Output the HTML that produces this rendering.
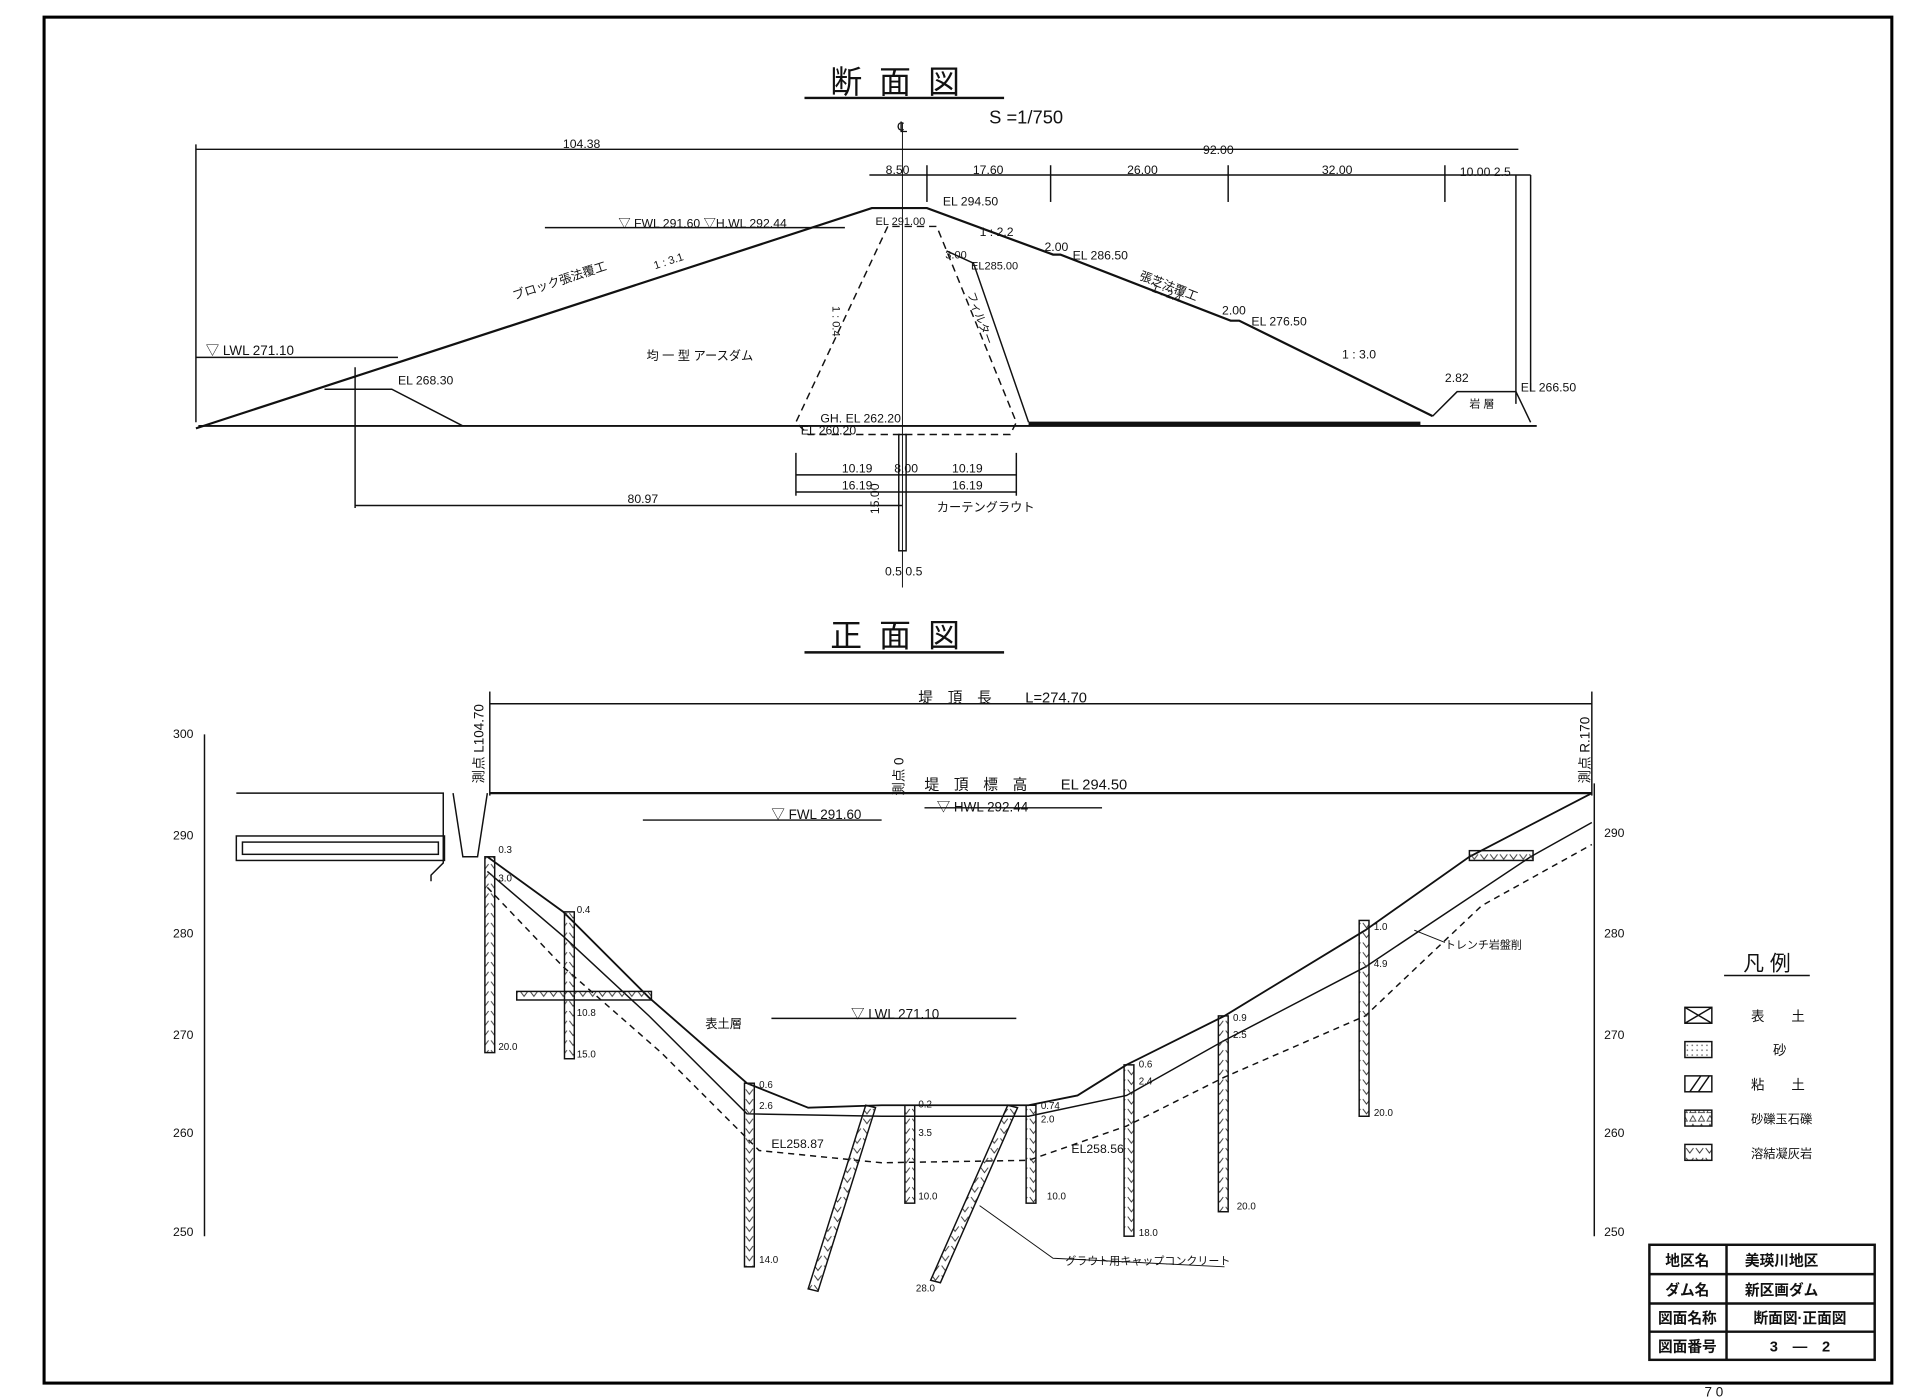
<!DOCTYPE html>
<html><head><meta charset="utf-8"><style>
html,body{margin:0;padding:0;background:#fff;}
svg{display:block;}
text{font-family:"Liberation Sans","Noto Sans CJK JP",sans-serif;fill:#111;}
</style></head><body>
<svg width="1920" height="1399" viewBox="0 0 1568 1143" preserveAspectRatio="none" xmlns="http://www.w3.org/2000/svg">
<defs>
<pattern id="vv" width="8" height="8" patternUnits="userSpaceOnUse"><path d="M1,2 L4,6 L7,2" fill="none" stroke="#333" stroke-width="0.8"/></pattern>
<pattern id="dots" width="4" height="4" patternUnits="userSpaceOnUse"><circle cx="2" cy="2" r="0.6" fill="#444"/></pattern>
<pattern id="tri" width="7" height="7" patternUnits="userSpaceOnUse"><path d="M1,6 L3.5,1.5 L6,6 Z" fill="none" stroke="#333" stroke-width="0.7"/></pattern>
</defs>
<rect width="1568" height="1143" fill="#fff"/>
<rect x="36" y="14" width="1509" height="1116" fill="none" stroke="#000" stroke-width="2.5"/>
<g stroke="#111" fill="none" stroke-width="1.2">
<line x1="657" y1="80" x2="820" y2="80" stroke-width="2"/>
<line x1="657" y1="533" x2="820" y2="533" stroke-width="2"/>
<line x1="160" y1="122" x2="1240" y2="122"/>
<line x1="160" y1="118" x2="160" y2="345"/>
<line x1="710" y1="143" x2="1250" y2="143"/>
<line x1="1238" y1="143" x2="1238" y2="330"/>
<line x1="1250" y1="143" x2="1250" y2="320"/>
<line x1="757" y1="135" x2="757" y2="165"/>
<line x1="858" y1="135" x2="858" y2="165"/>
<line x1="1003" y1="135" x2="1003" y2="165"/>
<line x1="1180" y1="135" x2="1180" y2="165"/>
<polyline points="160,350 712,170 757,170 860,208 866,208 1005,262 1012,262 1170,340" stroke-width="1.8"/>
<line x1="162" y1="348" x2="1255" y2="348" stroke-width="1.5"/>
<polyline points="265,318 320,318 378,348"/>
<polyline points="1170,340 1190,320 1238,320 1250,345"/>
<line x1="840" y1="346" x2="1160" y2="346" stroke-width="3"/>
<polyline points="773,205 795,215 840,345"/>
<polyline points="725,185 650,345 660,355 825,355 830,345 765,185 725,185" stroke-dasharray="6,4"/>
<line x1="737" y1="100" x2="737" y2="480" stroke-width="0.8"/>
<rect x="734" y="355" width="6" height="95"/>
<line x1="650" y1="370" x2="650" y2="405"/>
<line x1="830" y1="370" x2="830" y2="405"/>
<line x1="650" y1="388" x2="830" y2="388"/>
<line x1="650" y1="402" x2="830" y2="402"/>
<line x1="290" y1="300" x2="290" y2="415"/>
<line x1="290" y1="413" x2="737" y2="413"/>
<line x1="160" y1="292" x2="325" y2="292"/>
<line x1="445" y1="186" x2="690" y2="186"/>
<line x1="167" y1="600" x2="167" y2="1010"/>
<line x1="1302" y1="640" x2="1302" y2="1010"/>
<line x1="400" y1="575" x2="1300" y2="575"/>
<line x1="400" y1="565" x2="400" y2="650"/>
<line x1="1300" y1="565" x2="1300" y2="650"/>
<line x1="400" y1="648" x2="1300" y2="648" stroke-width="1.8"/>
<line x1="525" y1="670" x2="720" y2="670"/>
<line x1="755" y1="660" x2="900" y2="660"/>
<line x1="630" y1="832" x2="830" y2="832"/>
<polyline points="193,648 362,648 362,705 352,715 352,720"/>
<rect x="193" y="683" width="170" height="20"/>
<rect x="198" y="688" width="160" height="10"/>
<polyline points="370,648 378,700 390,700 398,648"/>
<polyline points="398,700 460,745 530,815 610,885 660,905 720,903 840,903 880,895 920,870 1000,830 1115,760 1200,700 1300,648" stroke-width="1.5"/>
<polyline points="398,712 460,765 530,830 610,910 720,912 840,912 920,895 1000,850 1115,790 1250,700 1300,672"/>
<polyline points="398,725 460,790 540,860 620,940 720,950 840,948 920,920 1000,880 1115,830 1210,740 1300,690" stroke-dasharray="5,4"/>
<g fill="url(#vv)">
<rect x="396" y="700" width="8" height="160"/>
<rect x="461" y="745" width="8" height="120"/>
<rect x="422" y="810" width="110" height="7"/>
<rect x="608" y="885" width="8" height="150"/>
<rect x="739" y="903" width="8" height="80"/>
<rect x="838" y="903" width="8" height="80"/>
<rect x="918" y="870" width="8" height="140"/>
<rect x="995" y="830" width="8" height="160"/>
<rect x="1110" y="752" width="8" height="160"/>
<polygon points="707,903 715,905 668,1055 660,1053"/>
<polygon points="823,903 831,905 768,1048 760,1046"/>
<rect x="1200" y="695" width="52" height="8"/>
</g>
<polyline points="800,985 860,1028 1000,1035" stroke-width="0.8"/>
<line x1="1155" y1="760" x2="1180" y2="770" stroke-width="0.8"/>
<line x1="1408" y1="797" x2="1478" y2="797"/>
<rect x="1376" y="823" width="22" height="13"/>
<rect x="1376" y="851" width="22" height="13" fill="url(#dots)"/>
<rect x="1376" y="879" width="22" height="13"/>
<rect x="1376" y="907" width="22" height="13" fill="url(#tri)"/>
<rect x="1376" y="935" width="22" height="13" fill="url(#vv)"/>
<path d="M1376,823 L1398,836 M1398,823 L1376,836"/>
<path d="M1380,892 L1389,879 M1387,892 L1396,879"/>
<rect x="1347" y="1017" width="184" height="94" stroke-width="2"/>
<line x1="1347" y1="1041" x2="1531" y2="1041" stroke-width="2"/>
<line x1="1347" y1="1065" x2="1531" y2="1065" stroke-width="2"/>
<line x1="1347" y1="1088" x2="1531" y2="1088" stroke-width="2"/>
<line x1="1410" y1="1017" x2="1410" y2="1111" stroke-width="2"/>
</g>
<text x="738" y="76" font-size="26" text-anchor="middle" letter-spacing="14">断面図</text>
<text x="838" y="101" font-size="15" text-anchor="middle">S =1/750</text>
<text x="737" y="108" font-size="12" text-anchor="middle">℄</text>
<text x="475" y="121" font-size="10" text-anchor="middle">104.38</text>
<text x="995" y="126" font-size="10" text-anchor="middle">92.00</text>
<text x="733" y="142" font-size="10" text-anchor="middle">8.50</text>
<text x="807" y="142" font-size="10" text-anchor="middle">17.60</text>
<text x="933" y="142" font-size="10" text-anchor="middle">26.00</text>
<text x="1092" y="142" font-size="10" text-anchor="middle">32.00</text>
<text x="1213" y="144" font-size="10" text-anchor="middle">10.00 2.5</text>
<text x="770" y="168" font-size="10">EL 294.50</text>
<text x="715" y="184" font-size="9">EL 291.00</text>
<text x="505" y="186" font-size="10">▽ FWL 291.60 ▽H.WL 292.44</text>
<text x="800" y="193" font-size="10">1 : 2.2</text>
<text x="853" y="205" font-size="10">2.00</text>
<text x="876" y="212" font-size="10">EL 286.50</text>
<text x="772" y="211" font-size="9">3.00</text>
<text x="793" y="220" font-size="9">EL285.00</text>
<text x="930" y="228" font-size="10" transform="rotate(21 930 228)">張芝法覆工</text>
<text x="940" y="238" font-size="9" transform="rotate(21 940 238)">1 : 2.4</text>
<text x="998" y="257" font-size="10">2.00</text>
<text x="1022" y="266" font-size="10">EL 276.50</text>
<text x="1096" y="293" font-size="10">1 : 3.0</text>
<text x="1180" y="312" font-size="10">2.82</text>
<text x="1242" y="320" font-size="10">EL 266.50</text>
<text x="1200" y="333" font-size="9">岩 層</text>
<text x="420" y="245" font-size="10" transform="rotate(-18 420 245)">ブロック張法覆工</text>
<text x="535" y="220" font-size="9" transform="rotate(-18 535 220)">1 : 3.1</text>
<text x="168" y="290" font-size="11">▽ LWL  271.10</text>
<text x="325" y="314" font-size="10">EL 268.30</text>
<text x="528" y="294" font-size="10">均 一 型 アースダム</text>
<text x="680" y="250" font-size="9" transform="rotate(90 680 250)">1 : 0.4</text>
<text x="790" y="240" font-size="9" transform="rotate(70 790 240)">フィルター</text>
<text x="670" y="345" font-size="10">GH. EL 262.20</text>
<text x="654" y="355" font-size="10">EL 260.20</text>
<text x="700" y="386" font-size="10" text-anchor="middle">10.19</text>
<text x="740" y="386" font-size="10" text-anchor="middle">8.00</text>
<text x="790" y="386" font-size="10" text-anchor="middle">10.19</text>
<text x="700" y="400" font-size="10" text-anchor="middle">16.19</text>
<text x="790" y="400" font-size="10" text-anchor="middle">16.19</text>
<text x="525" y="411" font-size="10" text-anchor="middle">80.97</text>
<text x="765" y="418" font-size="10">カーテングラウト</text>
<text x="718" y="420" font-size="10" transform="rotate(-90 718 420)">15.00</text>
<text x="738" y="470" font-size="10" text-anchor="middle">0.5  0.5</text>
<text x="738" y="528" font-size="26" text-anchor="middle" letter-spacing="14">正面図</text>
<text x="750" y="574" font-size="12">堤　頂　長　　 L=274.70</text>
<text x="395" y="640" font-size="11" transform="rotate(-90 395 640)">測点 L104.70</text>
<text x="1298" y="640" font-size="11" transform="rotate(-90 1298 640)">測点 R.170</text>
<text x="738" y="650" font-size="11" transform="rotate(-90 738 650)">測点 0</text>
<text x="755" y="645" font-size="12">堤　頂　標　高　　 EL 294.50</text>
<text x="630" y="669" font-size="11">▽ FWL  291.60</text>
<text x="765" y="663" font-size="11">▽ HWL  292.44</text>
<text x="695" y="832" font-size="11">▽  LWL  271.10</text>
<text x="576" y="840" font-size="10">表土層</text>
<text x="1180" y="775" font-size="9">トレンチ岩盤削</text>
<text x="630" y="938" font-size="10">EL258.87</text>
<text x="875" y="942" font-size="10">EL258.56</text>
<text x="870" y="1033" font-size="9">グラウト用キャップコンクリート</text>
<g font-size="10" text-anchor="end">
<text x="158" y="603">300</text><text x="158" y="686">290</text><text x="158" y="766">280</text><text x="158" y="849">270</text><text x="158" y="929">260</text><text x="158" y="1010">250</text>
</g>
<g font-size="10">
<text x="1310" y="684">290</text><text x="1310" y="766">280</text><text x="1310" y="849">270</text><text x="1310" y="929">260</text><text x="1310" y="1010">250</text>
</g>
<g font-size="8">
<text x="407" y="697">0.3</text><text x="407" y="720">3.0</text><text x="407" y="858">20.0</text>
<text x="471" y="746">0.4</text><text x="471" y="830">10.8</text><text x="471" y="864">15.0</text>
<text x="620" y="889">0.6</text><text x="620" y="906">2.6</text><text x="620" y="1032">14.0</text>
<text x="750" y="905">0.2</text><text x="750" y="928">3.5</text><text x="750" y="980">10.0</text>
<text x="850" y="906">0.74</text><text x="850" y="917">2.0</text><text x="855" y="980">10.0</text>
<text x="930" y="872">0.6</text><text x="930" y="886">2.4</text><text x="930" y="1010">18.0</text>
<text x="1007" y="834">0.9</text><text x="1007" y="848">2.5</text><text x="1010" y="988">20.0</text>
<text x="1122" y="760">1.0</text><text x="1122" y="790">4.9</text><text x="1122" y="912">20.0</text>
<text x="748" y="1055">28.0</text>
</g>
<text x="1443" y="793" font-size="17" text-anchor="middle">凡 例</text>
<g font-size="11">
<text x="1430" y="834">表　　土</text>
<text x="1448" y="862">砂</text>
<text x="1430" y="890">粘　　土</text>
<text x="1430" y="918" font-size="10">砂礫玉石礫</text>
<text x="1430" y="946" font-size="10">溶結凝灰岩</text>
</g>
<g font-size="12" font-weight="bold">
<text x="1378" y="1034" text-anchor="middle">地区名</text>
<text x="1378" y="1058" text-anchor="middle">ダム名</text>
<text x="1378" y="1081" text-anchor="middle">図面名称</text>
<text x="1378" y="1104" text-anchor="middle">図面番号</text>
<text x="1425" y="1034">美瑛川地区</text>
<text x="1425" y="1058">新区画ダム</text>
<text x="1470" y="1081" text-anchor="middle">断面図·正面図</text>
<text x="1470" y="1104" text-anchor="middle">3　―　2</text>
</g>
<text x="1392" y="1141" font-size="11">7 0</text>
</svg>
</body></html>
